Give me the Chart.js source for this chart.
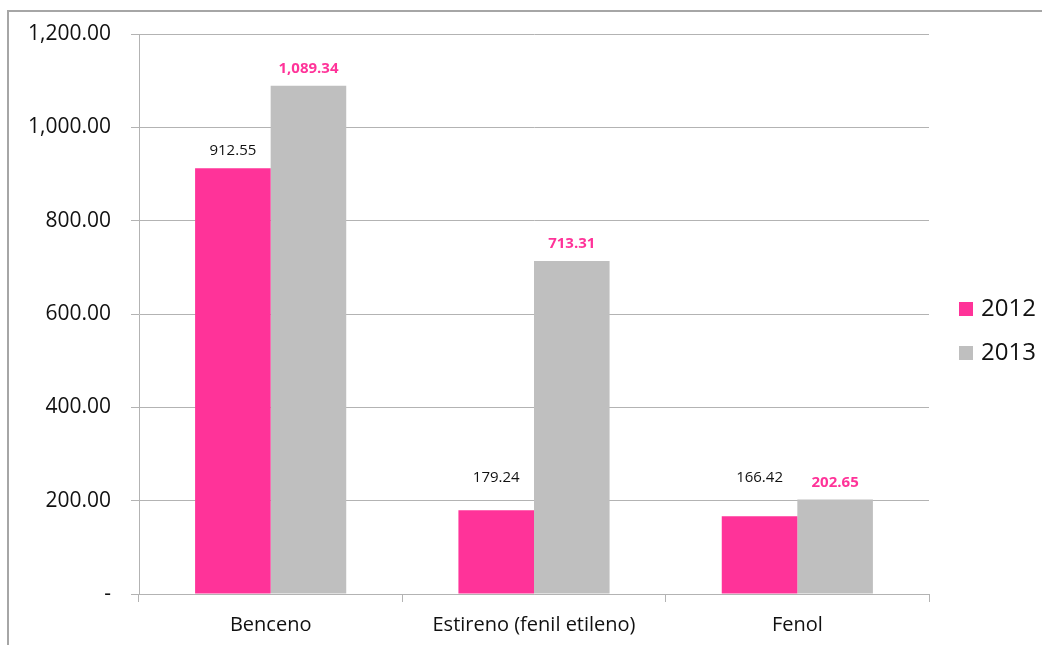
<!DOCTYPE html>
<html>
<head>
<meta charset="utf-8">
<script src="https://cdn.jsdelivr.net/npm/chart.js@4"></script>
<style>
  html, body { margin: 0; padding: 0; background: #fff; }
  #wrap { position: relative; width: 1042px; height: 645px; }
</style>
</head>
<body>
<div id="wrap"><canvas id="grafico" width="1042" height="645"></canvas></div>
<script>
const categorias = ["Benceno", "Estireno (fenil etileno)", "Fenol"];
const anos = ["2012", "2013"];
const valores2012 = [912.55, 179.24, 166.42];
const valores2013 = [1089.34, 713.31, 202.65];
const ticksY = [0, 200, 400, 600, 800, 1000, 1200];

const rosa = "#FF3399";
const cinza = "#BFBFBF";
const corGrade = "#B3B3B3";
const fonte = "'Open Sans', 'Liberation Sans', sans-serif";

function formatar(v) {
  if (v === 0) return "-";
  return v.toLocaleString("en-US", { minimumFractionDigits: 2, maximumFractionDigits: 2 });
}

// moldura (bordas de cima e da esquerda)
const moldura = {
  id: "moldura",
  beforeDraw(chart) {
    const ctx = chart.ctx;
    ctx.save();
    ctx.strokeStyle = "#A6A6A6";
    ctx.lineWidth = 2;
    ctx.beginPath();
    ctx.moveTo(8, 645);
    ctx.lineTo(8, 11);
    ctx.lineTo(1042, 11);
    ctx.stroke();
    ctx.restore();
  },
};

// rotulos de dados em cima das barras
// (como no Excel, rotulo que cairia sobre a linha de grade sobe um pouco)
const rotulos = {
  id: "rotulos",
  afterDatasetsDraw(chart) {
    const ctx = chart.ctx;
    const y = chart.scales.y;
    ctx.save();
    ctx.textAlign = "center";
    ctx.textBaseline = "middle";
    chart.data.datasets.forEach((ds, i) => {
      const meta = chart.getDatasetMeta(i);
      ctx.fillStyle = i === 0 ? "#111" : rosa;
      ctx.font = (i === 0 ? "" : "bold ") + "15px " + fonte;
      meta.data.forEach((bar, j) => {
        let ly = bar.y - 17;
        ticksY.forEach((t) => {
          const gy = y.getPixelForValue(t);
          if (Math.abs(ly - gy) < 10 && ly > gy - 10 && bar.y > gy) ly = gy - 23;
        });
        ctx.fillText(formatar(ds.data[j]), bar.x, ly);
      });
    });
    ctx.restore();
  },
};

// legenda a direita
const legenda = {
  id: "legenda",
  afterDraw(chart) {
    const ctx = chart.ctx;
    ctx.save();
    ctx.font = "24px " + fonte;
    ctx.textBaseline = "middle";
    chart.data.datasets.forEach((ds, i) => {
      const y = 309 + i * 44;
      ctx.fillStyle = ds.backgroundColor;
      ctx.fillRect(959, y - 7, 14, 14);
      ctx.fillStyle = "#111";
      ctx.fillText(ds.label, 981, y);
    });
    ctx.restore();
  },
};

const ctx = document.getElementById("grafico").getContext("2d");
new Chart(ctx, {
  type: "bar",
  data: {
    labels: categorias,
    datasets: [
      { label: anos[0], data: valores2012, backgroundColor: rosa },
      { label: anos[1], data: valores2013, backgroundColor: cinza },
    ],
  },
  options: {
    responsive: false,
    animation: false,
    devicePixelRatio: 1,
    layout: { padding: { left: 0, top: 34, right: 113, bottom: 0 } },
    plugins: { legend: { display: false }, tooltip: { enabled: false } },
    datasets: { bar: { categoryPercentage: 0.574, barPercentage: 1 } },
    scales: {
      x: {
        offset: true,
        grid: { offset: true, drawOnChartArea: false, color: corGrade, tickLength: 8 },
        border: { color: corGrade },
        ticks: { color: "#111", font: { family: fonte, size: 20 }, padding: 11, maxRotation: 0 },
        afterFit(scale) { scale.height = 51; },
      },
      y: {
        min: 0,
        max: 1200,
        afterBuildTicks(scale) { scale.ticks = ticksY.map((v) => ({ value: v })); },
        grid: { color: corGrade, tickLength: 8 },
        border: { color: corGrade },
        ticks: {
          color: "#111",
          font: { family: fonte, size: 21 },
          padding: 20,
          callback: (v) => formatar(v),
        },
        afterFit(scale) { scale.width = 139; },
      },
    },
  },
  plugins: [moldura, rotulos, legenda],
});
</script>
</body>
</html>
